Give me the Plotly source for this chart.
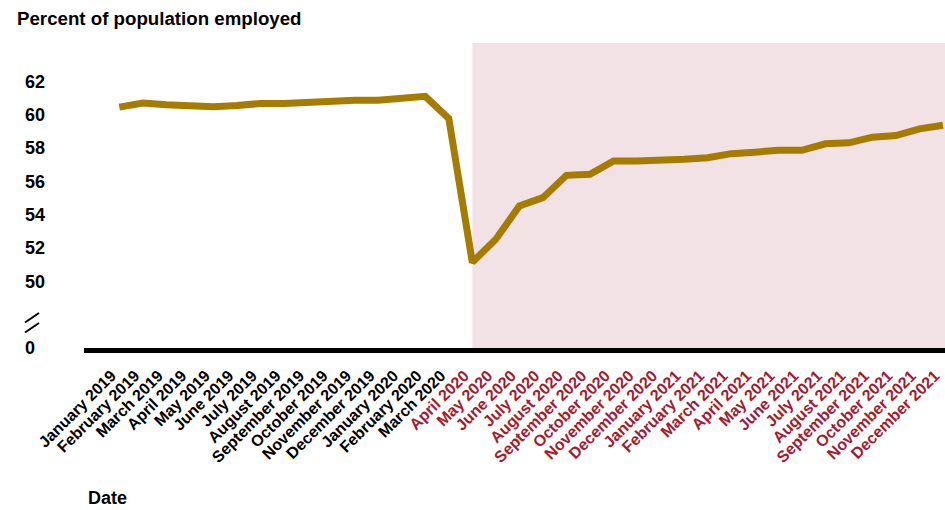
import plotly.graph_objects as go

# Monthly employment-to-population ratio, January 2019 - December 2021
months = [
    "January 2019", "February 2019", "March 2019", "April 2019", "May 2019", "June 2019",
    "July 2019", "August 2019", "September 2019", "October 2019", "November 2019", "December 2019",
    "January 2020", "February 2020", "March 2020", "April 2020", "May 2020", "June 2020",
    "July 2020", "August 2020", "September 2020", "October 2020", "November 2020", "December 2020",
    "January 2021", "February 2021", "March 2021", "April 2021", "May 2021", "June 2021",
    "July 2021", "August 2021", "September 2021", "October 2021", "November 2021", "December 2021",
]
employed_pct = [
    60.45, 60.7, 60.6, 60.5, 60.47, 60.55, 60.67, 60.67, 60.77, 60.77, 60.87, 60.87,
    60.96, 61.1, 59.77, 51.14, 52.53, 54.52, 55.02, 56.36, 56.42, 57.22, 57.22, 57.22,
    57.32, 57.42, 57.66, 57.75, 57.86, 57.86, 58.25, 58.31, 58.65, 58.75, 59.15, 59.37,
]
pandemic_start = "April 2020"

# Broken y axis: the bottom of the axis stands in for zero
y_tick_vals = [46, 50, 52, 54, 56, 58, 60, 62]
y_tick_text = ["0\u00a0\u00a0", "50", "52", "54", "56", "58", "60", "62"]

LINE_COLOR = "#a67c00"
SHADE_COLOR = "#f2e2e6"
RED = "#a6192e"
FONT = "Arial, Liberation Sans, sans-serif"

W, H = 945, 510
M_L, M_R, M_T, M_B = 84, 0, 43, 162

start_idx = months.index(pandemic_start)
x_range = [-1.5, len(months) - 1 + 0.085]
y_range = [46, 64.3]

tick_text = [
    m if i < start_idx else f'<span style="color:{RED}">{m}</span>'
    for i, m in enumerate(months)
]

fig = go.Figure()
fig.add_trace(go.Scatter(
    x=months, y=employed_pct, mode="lines",
    line=dict(color=LINE_COLOR, width=7),
    hoverinfo="x+y", showlegend=False,
))

# Shaded pandemic period
fig.add_shape(
    type="rect", xref="x", yref="paper",
    x0=start_idx, x1=x_range[1], y0=0, y1=1,
    fillcolor=SHADE_COLOR, line_width=0, layer="below",
)

# Axis-break marker next to the y tick labels
plot_w = W - M_L - M_R
plot_h = H - M_T - M_B


def px_to_paper(px, py):
    return (px - M_L) / plot_w, (H - M_B - py) / plot_h


for y_off in (0, 10):
    x0, y0 = px_to_paper(25, 322.5 + y_off)
    x1, y1 = px_to_paper(39, 313 + y_off)
    fig.add_shape(
        type="line", xref="paper", yref="paper",
        x0=x0, y0=y0, x1=x1, y1=y1,
        line=dict(color="black", width=2),
    )

# "Date" axis label
dx, dy = px_to_paper(86, 498)
fig.add_annotation(
    text="Date", xref="paper", yref="paper", x=dx, y=dy,
    xanchor="left", yanchor="middle", showarrow=False,
    font=dict(family=FONT, size=18, color="black", weight="bold"),
)

fig.update_layout(
    width=W, height=H,
    margin=dict(l=M_L, r=M_R, t=M_T, b=M_B, pad=0),
    paper_bgcolor="white", plot_bgcolor="white",
    title=dict(
        text="Percent of population employed",
        x=17 / W, xanchor="left", xref="container",
        y=1 - 18 / H, yanchor="middle", yref="container",
        font=dict(family=FONT, size=18.7, color="black", weight="bold"),
    ),
    xaxis=dict(
        type="category", range=x_range,
        tickmode="array", tickvals=months, ticktext=tick_text,
        tickangle=-45, tickfont=dict(family=FONT, size=16, color="black", weight="bold"),
        showgrid=False, zeroline=False, ticks="",
        showline=True, linecolor="black", linewidth=5,
        ticklabelshift=-8, ticklabelstandoff=7,
        automargin=False,
    ),
    yaxis=dict(
        range=y_range, tickmode="array", tickvals=y_tick_vals, ticktext=y_tick_text,
        tickfont=dict(family=FONT, size=18, color="black", weight="bold"),
        showgrid=False, zeroline=False, showline=False, ticks="",
        ticklabelstandoff=38, automargin=False,
    ),
)

fig.write_html("out.html")
